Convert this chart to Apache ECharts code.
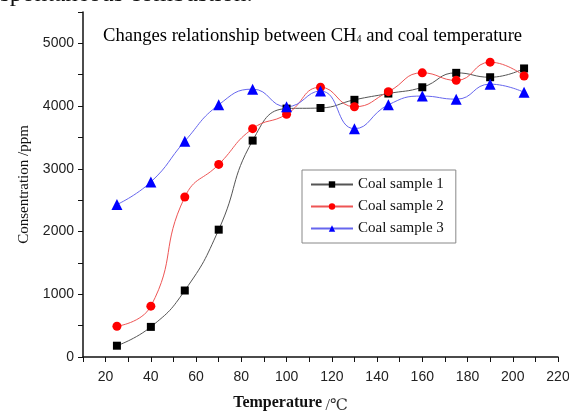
<!DOCTYPE html>
<html style="height: 100%">
   <head>
       <meta charset="utf-8">
   </head>
   <body style="height: 100%; margin: 0; background: #fff">
       <div id="container" style="width: 569px; height: 412px"></div>
       <script type="text/javascript" src="https://cdn.jsdelivr.net/npm/echarts@6/dist/echarts.min.js"></script>
       <script type="text/javascript">
// temperature points (℃)
var temps = [25, 40, 55, 70, 85, 100, 115, 130, 145, 160, 175, 190, 205];
// CH4 concentration (ppm)
var sample1 = [180, 480, 1060, 2030, 3450, 3960, 3970, 4100, 4200, 4300, 4530, 4460, 4600];
var sample2 = [490, 810, 2550, 3070, 3640, 3870, 4300, 3990, 4230, 4530, 4410, 4700, 4480];
var sample3 = [2430, 2790, 3440, 4020, 4270, 3990, 4240, 3640, 4020, 4160, 4110, 4350, 4220];
var names = ['Coal sample 1', 'Coal sample 2', 'Coal sample 3'];

var serif = '"Liberation Serif", "DejaVu Serif", serif';
var sans = '"Liberation Sans", Arial, sans-serif';

var pairs = function (ys) {
    var res = [];
    for (var i = 0; i < temps.length; i++) {
        res.push([temps[i], ys[i]]);
    }
    return res;
};

var dom = document.getElementById("container");
var myChart = echarts.init(dom);
var option = {
    backgroundColor: '#fff',
    animation: false,
    grid: {left: 83, right: 11, top: 12, bottom: 55, outerBoundsMode: 'none', containLabel: false},
    graphic: [
        {
            type: 'text', left: 0, top: -18,
            style: {text: 'spontaneous combustion.', font: '25px ' + serif, fill: '#111'}
        },
        {
            type: 'text', left: 103, top: 27,
            style: {
                text: '{a|Changes relationship between CH}{s|4}{a| and coal temperature}',
                rich: {
                    a: {fontFamily: serif, fontSize: 18.6, color: '#111'},
                    s: {fontFamily: serif, fontSize: 10, color: '#111', padding: [6, 0, 0, 0]}
                }
            }
        }
    ],
    legend: {
        orient: 'vertical',
        left: 302,
        top: 170,
        data: names,
        itemWidth: 42,
        itemHeight: 8,
        itemGap: 7,
        padding: [7, 12, 7, 8],
        borderColor: '#888',
        borderWidth: 1,
        textStyle: {fontFamily: serif, fontSize: 15, color: '#111'}
    },
    xAxis: {
        type: 'value',
        min: 10,
        max: 220,
        interval: 10,
        name: '{b|Temperature} {n|/℃}',
        nameLocation: 'middle',
        nameGap: 35,
        nameTextStyle: {
            padding: [0, 60, 0, 0],
            rich: {
                b: {fontFamily: serif, fontSize: 16, fontWeight: 'bold', color: '#111'},
                n: {fontFamily: serif, fontSize: 16, color: '#333', padding: [6, 0, 0, 0]}
            }
        },
        axisLine: {lineStyle: {color: '#111', width: 1.5}},
        axisTick: {show: true, inside: false, length: 5, lineStyle: {color: '#111'}},
        axisLabel: {fontFamily: sans, fontSize: 14, color: '#222', margin: 13,
            formatter: function (v) { return v % 20 === 0 ? String(v) : ''; }},
        splitLine: {show: false}
    },
    yAxis: {
        type: 'value',
        min: 0,
        max: 5500,
        interval: 500,
        name: 'Consentration /ppm',
        nameLocation: 'middle',
        nameRotate: 90,
        nameGap: 45,
        nameTextStyle: {fontFamily: serif, fontSize: 15, color: '#111'},
        axisLine: {show: true, lineStyle: {color: '#111', width: 1.5}},
        axisTick: {show: true, length: 5, lineStyle: {color: '#111'}},
        axisLabel: {fontFamily: sans, fontSize: 14, color: '#222', margin: 9,
            formatter: function (v) { return v % 1000 === 0 ? String(v) : ''; }},
        splitLine: {show: false}
    },
    series: [
        {
            name: names[0], type: 'line', smooth: true, data: pairs(sample1),
            symbol: 'rect', symbolSize: 8,
            itemStyle: {color: '#000'},
            lineStyle: {color: '#555', width: 1}
        },
        {
            name: names[1], type: 'line', smooth: true, data: pairs(sample2),
            symbol: 'circle', symbolSize: 9,
            itemStyle: {color: '#ff0000'},
            lineStyle: {color: '#ee5555', width: 1}
        },
        {
            name: names[2], type: 'line', smooth: true, data: pairs(sample3),
            symbol: 'triangle', symbolSize: 11,
            itemStyle: {color: '#0000ff'},
            lineStyle: {color: '#6666ee', width: 1}
        }
    ]
};
if (option && typeof option === "object") {
    myChart.setOption(option, true);
}
       </script>
   </body>
</html>
